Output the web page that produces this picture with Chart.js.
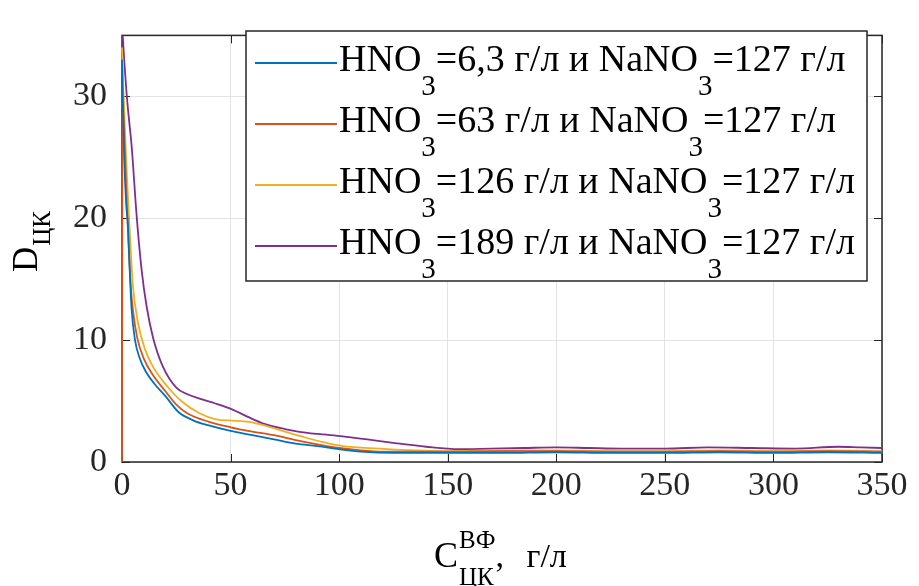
<!DOCTYPE html>
<html>
<head>
<meta charset="utf-8">
<script src="https://cdn.jsdelivr.net/npm/chart.js@4/dist/chart.umd.min.js"></script>
<style>
html,body{margin:0;padding:0;background:#fff;}
#wrap{width:919px;height:586px;position:relative;}
</style>
</head>
<body>
<div id="wrap"><canvas id="c" width="919" height="586"></canvas></div>
<script>
// ---- data ----
const xTicks = [0, 50, 100, 150, 200, 250, 300, 350];
const yTicks = [0, 10, 20, 30];

const seriesNames = [
  'HNO_3=6,3 г/л и NaNO_3=127 г/л',
  'HNO_3=63 г/л и NaNO_3=127 г/л',
  'HNO_3=126 г/л и NaNO_3=127 г/л',
  'HNO_3=189 г/л и NaNO_3=127 г/л'
];

const s1X = [0, 1, 2, 2.7, 3.5, 4.4, 6, 8, 11, 15, 20, 26, 33, 40, 50, 60, 70, 80, 90, 100, 110, 125, 150, 175, 200, 225, 250, 275, 300, 325, 350];
const s1Y = [33, 25, 21, 19.5, 16, 12.6, 10.0, 8.6, 7.4, 6.4, 5.4, 4.1, 3.4, 3.0, 2.55, 2.2, 1.85, 1.5, 1.3, 1.05, 0.85, 0.75, 0.75, 0.75, 0.8, 0.75, 0.75, 0.8, 0.75, 0.8, 0.75];

const s2X = [0, 0.2, 1, 2, 3, 4, 5, 7, 10, 14, 20, 25, 30, 40, 50, 60, 70, 80, 90, 100, 110, 120, 135, 150, 175, 200, 225, 250, 275, 300, 325, 350];
const s2Y = [0, 29.5, 27, 22, 18, 14.5, 12.5, 10.2, 8.5, 7.2, 5.8, 4.7, 4.0, 3.3, 2.85, 2.5, 2.2, 1.8, 1.45, 1.15, 0.95, 0.85, 0.85, 0.85, 0.9, 0.9, 0.85, 0.85, 0.9, 0.85, 0.9, 0.85];

const s3X = [0, 0.6, 2.1, 3.7, 5, 7.5, 10.5, 14.3, 20.4, 28, 35.7, 43.3, 51, 58.5, 63.4, 73, 82.6, 92, 101.7, 118.5, 135, 150, 175, 200, 225, 250, 275, 300, 325, 350];
const s3Y = [34, 30.7, 24, 18.5, 14.5, 11.3, 9.3, 7.8, 6.3, 4.9, 4.0, 3.5, 3.4, 3.3, 3.1, 2.6, 2.1, 1.65, 1.3, 1.1, 0.95, 0.9, 0.95, 0.95, 0.9, 0.9, 0.95, 0.9, 0.95, 0.9];

const s4X = [0, 1, 2, 3, 4.4, 6.7, 9, 11.3, 14.3, 18.9, 25, 29.6, 35.7, 43, 50.9, 58, 66, 75, 81, 90, 101.7, 113, 125.7, 140, 155, 170, 185, 200, 215, 230, 250, 270, 290, 310, 330, 340, 350];
const s4Y = [36, 33, 30.5, 28.5, 26, 20.3, 15.8, 12.8, 10.2, 7.8, 6.1, 5.6, 5.2, 4.8, 4.3, 3.7, 3.1, 2.7, 2.5, 2.3, 2.1, 1.85, 1.55, 1.25, 1.05, 1.1, 1.15, 1.2, 1.15, 1.1, 1.1, 1.2, 1.15, 1.1, 1.25, 1.2, 1.15];

const colors = ['#0072BD', '#D95319', '#EDB120', '#7E2F8E'];
const allX = [s1X, s2X, s3X, s4X];
const allY = [s1Y, s2Y, s3Y, s4Y];

const SERIF = '"Liberation Serif", "Times New Roman", serif';
const AX = '#262626';

// draw text with "_3" subscript segments
function drawRich(ctx, str, x, y, size, subSize, subDy) {
  const parts = str.split(/(_\d)/);
  let cx = x;
  for (const p of parts) {
    if (!p) continue;
    if (p[0] === '_') {
      ctx.font = subSize + 'px ' + SERIF;
      ctx.fillText(p.slice(1), cx, y + subDy);
      cx += ctx.measureText(p.slice(1)).width;
    } else {
      ctx.font = size + 'px ' + SERIF;
      ctx.fillText(p, cx, y);
      cx += ctx.measureText(p).width;
    }
  }
  return cx;
}

const decor = {
  id: 'decor',
  beforeDatasetsDraw(chart) {
    const ctx = chart.ctx;
    const a = chart.chartArea;
    const xs = chart.scales.x, ys = chart.scales.y;
    ctx.save();
    ctx.strokeStyle = AX;
    ctx.lineWidth = 1.5;
    ctx.strokeRect(a.left, a.top, a.right - a.left, a.bottom - a.top);
    ctx.lineWidth = 1;
    const tl = 8;
    ctx.beginPath();
    xTicks.forEach(v => {
      const px = Math.round(xs.getPixelForValue(v)) + 0.5;
      ctx.moveTo(px, a.bottom); ctx.lineTo(px, a.bottom - tl);
      ctx.moveTo(px, a.top); ctx.lineTo(px, a.top + tl);
    });
    yTicks.forEach(v => {
      const py = Math.round(ys.getPixelForValue(v)) + 0.5;
      ctx.moveTo(a.left, py); ctx.lineTo(a.left + tl, py);
      ctx.moveTo(a.right, py); ctx.lineTo(a.right - tl, py);
    });
    ctx.stroke();
    ctx.restore();
  },
  afterDatasetsDraw(chart) {
    const ctx = chart.ctx;
    const a = chart.chartArea;
    ctx.save();
    // legend
    const L = 246, T = 31, R = 867, B = 281;
    ctx.fillStyle = '#fff';
    ctx.fillRect(L, T, R - L, B - T);
    ctx.strokeStyle = AX;
    ctx.lineWidth = 1.5;
    ctx.strokeRect(L, T, R - L, B - T);
    seriesNames.forEach((name, i) => {
      const yc = 63 + 61 * i;
      ctx.strokeStyle = colors[i];
      ctx.lineWidth = 1.8;
      ctx.beginPath();
      ctx.moveTo(255, yc); ctx.lineTo(337, yc);
      ctx.stroke();
      ctx.fillStyle = '#000';
      ctx.textBaseline = 'alphabetic';
      ctx.textAlign = 'left';
      drawRich(ctx, name, 339, yc + 8, 38, 29, 24);
    });

    // y title
    ctx.fillStyle = '#000';
    ctx.save();
    ctx.translate(37, 272);
    ctx.rotate(-Math.PI / 2);
    ctx.font = '35px ' + SERIF;
    ctx.textAlign = 'left';
    ctx.fillText('D', 0, 0);
    const wD = ctx.measureText('D').width;
    ctx.font = '25px ' + SERIF;
    ctx.fillText('ЦК', wD + 1, 13);
    ctx.restore();

    // x title
    const cx = (a.left + a.right) / 2;
    let x0 = cx - 68;
    ctx.textAlign = 'left';
    ctx.font = '36px ' + SERIF;
    ctx.fillText('C', x0, 567);
    const wC = ctx.measureText('C').width;
    ctx.font = '25px ' + SERIF;
    ctx.fillText('ВФ', x0 + wC + 1, 548);
    ctx.fillText('ЦК', x0 + wC + 1, 585);
    const wS = Math.max(ctx.measureText('ВФ').width, ctx.measureText('ЦК').width);
    ctx.font = '34px ' + SERIF;
    ctx.fillText(',', x0 + wC + wS + 1, 567);
    ctx.fillText('г/л', x0 + wC + wS + 32, 567);
    ctx.restore();
  }
};

const datasets = allX.map((xsArr, i) => ({
  label: seriesNames[i],
  data: xsArr.map((x, j) => ({ x: x, y: allY[i][j] })),
  borderColor: colors[i],
  backgroundColor: colors[i],
  borderWidth: 1.8,
  pointRadius: 0,
  cubicInterpolationMode: 'monotone',
  clip: { left: 2, top: 0, right: 0, bottom: 2 },
  fill: false
}));

new Chart(document.getElementById('c'), {
  type: 'line',
  data: { datasets },
  options: {
    responsive: false,
    animation: false,
    events: [],
    layout: { padding: { left: 0, right: 37, top: 10, bottom: 0 } },
    plugins: { legend: { display: false }, tooltip: { enabled: false }, title: { display: false } },
    scales: {
      x: {
        type: 'linear', min: 0, max: 350,
        afterBuildTicks: s => { s.ticks = xTicks.map(v => ({ value: v })); },
        afterFit: s => { s.height = 124; },
        grid: { color: '#e3e3e3', lineWidth: 1, drawTicks: false },
        border: { display: false },
        ticks: { color: AX, font: { family: SERIF, size: 34 }, padding: 4, maxRotation: 0, autoSkip: false }
      },
      y: {
        type: 'linear', min: 0, max: 35,
        afterBuildTicks: s => { s.ticks = yTicks.map(v => ({ value: v })); },
        afterFit: s => { s.width = 122; },
        grid: { color: '#e3e3e3', lineWidth: 1, drawTicks: false },
        border: { display: false },
        ticks: { color: AX, font: { family: SERIF, size: 34 }, padding: 15 }
      }
    }
  },
  plugins: [decor]
});
</script>
</body>
</html>
